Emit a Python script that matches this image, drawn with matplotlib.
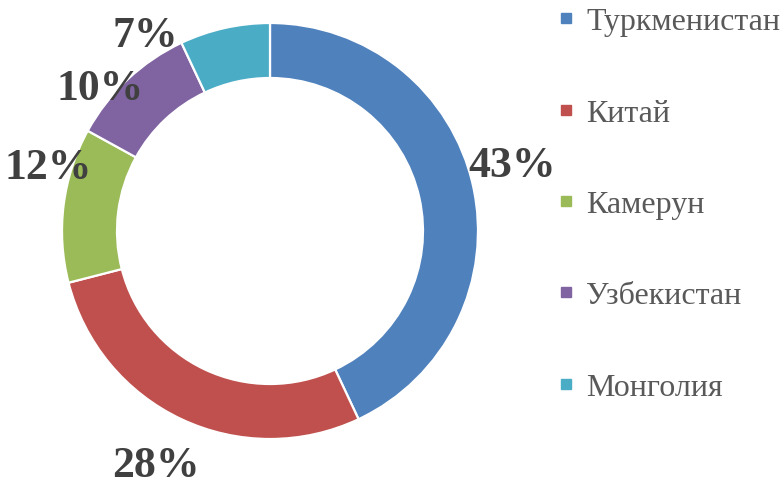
import matplotlib.pyplot as plt
from matplotlib.lines import Line2D

countries = ['Туркменистан', 'Китай', 'Камерун', 'Узбекистан', 'Монголия']
shares = [43, 28, 12, 10, 7]
colors = ['#4F81BD', '#C0504D', '#9BBB59', '#8064A2', '#4BACC6']

# label positions (pixel coords from top-left, Excel moved the small ones)
label_xy = [(512, 166), (156, 466), (48, 168), (100, 89), (145, 36)]

W, H = 782, 485
fig = plt.figure(figsize=(W / 100, H / 100), dpi=100)
ax = fig.add_axes([0, 0, 1, 1])

center = (270, H - 232)
ax.pie(shares, colors=colors, startangle=90, counterclock=False,
       center=center, radius=208,
       wedgeprops=dict(width=55, edgecolor='white', linewidth=1.6))

for (x, y), v in zip(label_xy, shares):
   ax.text(x, H - y, '{}%'.format(v), ha='center', va='center',
           fontsize=31.5, fontweight='bold', color='#404040',
           family='Liberation Serif')

ax.set_xlim(0, W)
ax.set_ylim(0, H)
ax.set_aspect('auto')
ax.axis('off')

handles = [Line2D([], [], marker='s', linestyle='none', markersize=7,
                  markerfacecolor=c, markeredgecolor=c) for c in colors]
leg = fig.legend(handles, countries, loc='upper left', bbox_to_anchor=(556 / W, 1 - 8 / H),
                 frameon=False, prop=dict(family='Liberation Serif', size=23),
                 labelspacing=1.94, handlelength=0.6, handletextpad=0.35,
                 borderpad=0, borderaxespad=0)
for t in leg.get_texts():
   t.set_color('#595959')

fig.savefig('out.png', dpi=100)
